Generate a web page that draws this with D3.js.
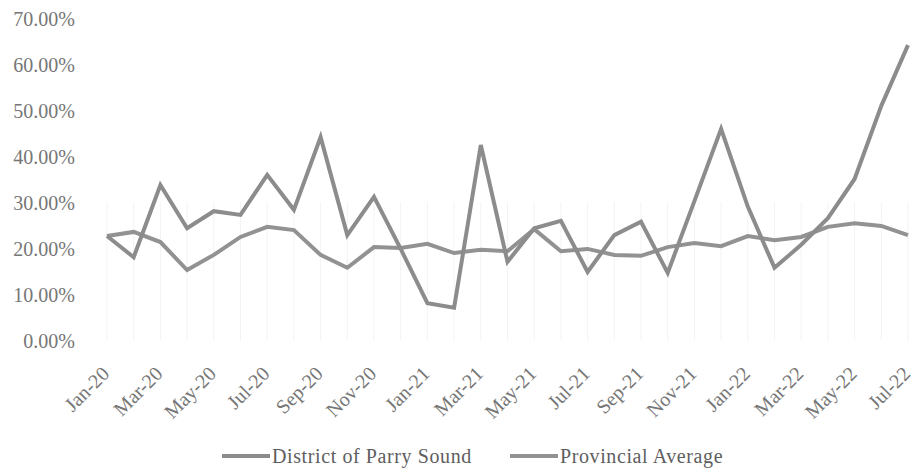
<!DOCTYPE html>
<html>
<head>
<meta charset="utf-8">
<script src="https://cdn.jsdelivr.net/npm/d3@7"></script>
<style>
  html, body { margin: 0; padding: 0; background: #fff; }
  svg { display: block; font-family: "Liberation Serif", "Times New Roman", serif; }
</style>
</head>
<body>
<svg id="chart" width="913" height="468"></svg>
<script>
// Monthly rates, Jan 2020 – Jul 2022
const months = [
  "Jan-20","Feb-20","Mar-20","Apr-20","May-20","Jun-20","Jul-20","Aug-20","Sep-20","Oct-20","Nov-20","Dec-20",
  "Jan-21","Feb-21","Mar-21","Apr-21","May-21","Jun-21","Jul-21","Aug-21","Sep-21","Oct-21","Nov-21","Dec-21",
  "Jan-22","Feb-22","Mar-22","Apr-22","May-22","Jun-22","Jul-22"
];
const parrySound = [
  22.6, 18.0, 33.7, 24.3, 28.0, 27.2, 35.9, 28.3, 44.1, 22.8, 31.1, 19.8,
  8.0, 7.0, 42.4, 17.0, 24.3, 25.9, 14.8, 22.8, 25.7, 14.6, 30.2, 45.9,
  29.0, 15.7, 20.7, 26.5, 35.0, 50.9, 64.1
];
const provincial = [
  22.6, 23.5, 21.3, 15.2, 18.5, 22.4, 24.6, 23.9, 18.5, 15.7, 20.2, 20.0,
  20.9, 18.9, 19.6, 19.3, 24.1, 19.3, 19.8, 18.5, 18.3, 20.2, 21.1, 20.4,
  22.6, 21.7, 22.4, 24.6, 25.4, 24.8, 22.8
];
const yTicks = [0, 10, 20, 30, 40, 50, 60, 70];
const seriesNames = ["District of Parry Sound", "Provincial Average"];

const svg = d3.select("#chart");
const plotLeft = 107, plotRight = 908, plotTop = 18, plotBottom = 340;

const x = d3.scalePoint().domain(months).range([plotLeft, plotRight]);
const y = d3.scaleLinear().domain([0, 70]).range([plotBottom, plotTop]);

// faint month guides in the lower part of the plot
svg.append("g")
  .selectAll("line")
  .data(months)
  .join("line")
  .attr("x1", d => x(d)).attr("x2", d => x(d))
  .attr("y1", y(30)).attr("y2", y(0))
  .attr("stroke", "#f3f3f3")
  .attr("stroke-width", 1);

// y axis labels
const yAxis = d3.axisLeft(y)
  .tickValues(yTicks)
  .tickFormat(d => d3.format(".2f")(d) + "%")
  .tickSize(0)
  .tickPadding(0);
const gy = svg.append("g").attr("transform", "translate(75,1)").call(yAxis);
gy.select(".domain").remove();
gy.selectAll("text")
  .attr("fill", "#767676")
  .style("font-size", "20px")
  .style("font-family", "Liberation Serif, serif");

// x axis labels, every other month
const xAxis = d3.axisBottom(x)
  .tickValues(months.filter((d, i) => i % 2 === 0))
  .tickSize(0);
const gx = svg.append("g").attr("transform", `translate(0,${plotBottom})`).call(xAxis);
gx.select(".domain").remove();
gx.selectAll("text")
  .attr("fill", "#767676")
  .style("font-size", "20px")
  .style("font-family", "Liberation Serif, serif")
  .attr("text-anchor", "end")
  .attr("dy", null)
  .attr("y", null)
  .attr("transform", "translate(3,35) rotate(-45)");

// series lines
const line = d3.line()
  .x((d, i) => x(months[i]))
  .y(d => y(d));

const seriesColors = ["#8c8c8c", "#929292"];
[provincial, parrySound].forEach((vals, k) => {
  svg.append("path")
    .datum(vals)
    .attr("d", line)
    .attr("fill", "none")
    .attr("stroke", seriesColors[1 - k])
    .attr("stroke-width", 4)
    .attr("stroke-linejoin", "miter");
});

// legend
const legendItems = [
  { name: seriesNames[0], x0: 222, color: seriesColors[0] },
  { name: seriesNames[1], x0: 510, color: seriesColors[1] }
];
const lg = svg.append("g");
legendItems.forEach(it => {
  lg.append("line")
    .attr("x1", it.x0).attr("x2", it.x0 + 48)
    .attr("y1", 456).attr("y2", 456)
    .attr("stroke", it.color).attr("stroke-width", 4);
  lg.append("text")
    .attr("x", it.x0 + 50).attr("y", 463)
    .attr("fill", "#5e5e5e")
    .style("font-size", "20px")
    .style("letter-spacing", "0.6px")
    .text(it.name);
});
</script>
</body>
</html>
